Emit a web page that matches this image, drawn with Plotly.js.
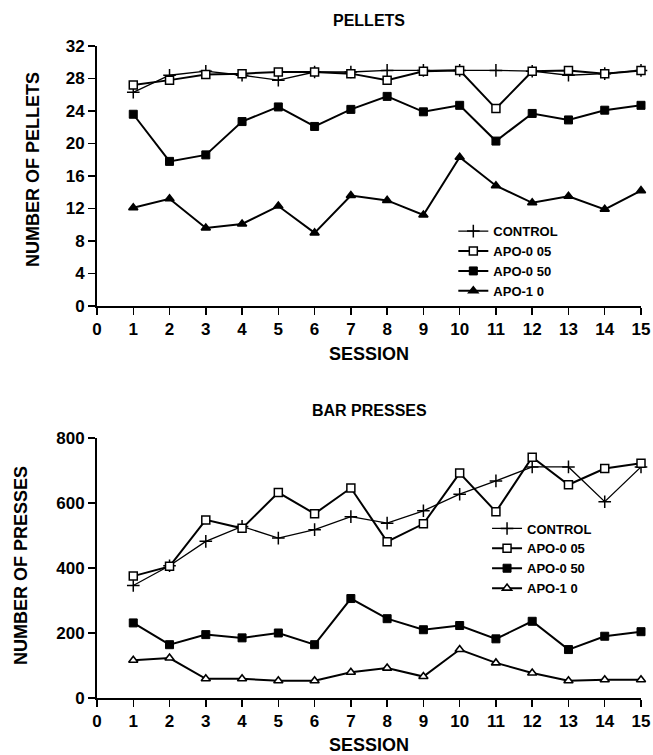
<!DOCTYPE html>
<html><head><meta charset="utf-8">
<script src="https://cdn.plot.ly/plotly-3.0.1.min.js"></script>
<style>html,body{margin:0;padding:0;background:#fff}</style>
</head><body><div id="chart" style="width:653px;height:755px"></div>
<script>
const sessions = [1,2,3,4,5,6,7,8,9,10,11,12,13,14,15];
const seriesNames = ["CONTROL","APO-0 05","APO-0 50","APO-1 0"];

const pelletsControl = [26.3,28.4,28.9,28.4,27.8,28.8,28.8,29.0,29.0,29.0,29.0,28.9,28.4,28.6,29.0];
const pelletsApo005 = [27.2,27.8,28.5,28.6,28.8,28.8,28.6,27.8,28.9,29.0,24.3,28.9,29.0,28.6,29.0];
const pelletsApo050 = [23.6,17.8,18.6,22.7,24.5,22.1,24.2,25.8,23.9,24.7,20.3,23.7,22.9,24.1,24.7];
const pelletsApo10 = [12.1,13.2,9.6,10.1,12.3,9.0,13.6,13.0,11.2,18.3,14.8,12.7,13.5,11.9,14.2];

const pressControl = [346,407,482,528,492,518,558,538,576,627,668,711,711,604,711];
const pressApo005 = [375,405,548,522,632,567,646,481,536,692,573,741,656,706,722];
const pressApo050 = [231,164,195,185,200,164,306,244,210,223,182,236,149,190,204];
const pressApo10 = [116,123,59,59,53,53,79,92,66,149,108,77,53,56,56];

const xTicks = [0,1,2,3,4,5,6,7,8,9,10,11,12,13,14,15];
const pelletTicks = [0,4,8,12,16,20,24,28,32];
const pressTicks = [0,200,400,600,800];

const styles = [
  {symbol:'cross-thin-open', size:9, lw:1.3, fill:'#000', mlw:1.5},
  {symbol:'square', size:8, lw:2, fill:'#fff', mlw:1.5},
  {symbol:'square', size:8, lw:2, fill:'#000', mlw:1},
  {symbol:'triangle-up', size:8, lw:2, fill:'#fff', mlw:1.6}
];

function mk(name, y, i, xa, ya, legend, triFill){
  const s = styles[i];
  const fill = (i === 3 && triFill) ? triFill : s.fill;
  return {
    x: sessions, y: y, name: name, type:'scatter', mode:'lines+markers',
    xaxis: xa, yaxis: ya, legend: legend, showlegend: true, cliponaxis:false,
    line:{color:'#000', width:s.lw},
    marker:{symbol:s.symbol, size:s.size, color:fill, line:{color:'#000', width:s.mlw}}
  };
}

const topData = [pelletsControl, pelletsApo005, pelletsApo050, pelletsApo10];
const botData = [pressControl, pressApo005, pressApo050, pressApo10];
const traces = [];
topData.forEach((d,i)=>traces.push(mk(seriesNames[i], d, i, 'x', 'y', 'legend', '#000')));
botData.forEach((d,i)=>traces.push(mk(seriesNames[i], d, i, 'x2', 'y2', 'legend2', null)));

const fontFam = 'Liberation Sans, Arial, sans-serif';
const tickFont = {family: fontFam, size: 17, color:'#000', weight:'bold'};

function xax(anchor){
  return {anchor: anchor, domain:[0,1], range:[0,15], tickvals: xTicks, ticktext: xTicks.map(String),
    showgrid:false, zeroline:false, showline:true, linecolor:'#000', linewidth:2,
    ticks:'outside', ticklen:7, tickwidth:1.5, tickcolor:'#000', tickfont: tickFont, fixedrange:true};
}
function yax(anchor, domain, range, ticks){
  return {anchor: anchor, domain: domain, range: range, tickvals: ticks, ticktext: ticks.map(String),
    showgrid:false, zeroline:false, showline:true, linecolor:'#000', linewidth:2,
    ticks:'outside', ticklen:7, tickwidth:1.5, tickcolor:'#000', tickfont: tickFont, fixedrange:true};
}

const legendBase = {bgcolor:'rgba(0,0,0,0)', borderwidth:0, xanchor:'left', yanchor:'top',
  font:{family:fontFam, size:13, color:'#000', weight:'bold'}, tracegroupgap:0, itemwidth:30};

const titleFont = {family:fontFam, size:16, color:'#000', weight:'bold'};
const axTitleFont = {family:fontFam, size:18, color:'#000', weight:'bold'};

const layout = {
  width:653, height:755, paper_bgcolor:'#fff', plot_bgcolor:'#fff',
  margin:{l:97, r:12, t:46, b:57},
  xaxis: xax('y'),
  yaxis: yax('x', [0.6012,1], [0,32], pelletTicks),
  xaxis2: xax('y2'),
  yaxis2: yax('x2', [0,0.3988], [0,800], pressTicks),
  legend: Object.assign({}, legendBase, {x:0.655, y:0.739}),
  legend2: Object.assign({}, legendBase, {x:0.717, y:0.283}),
  annotations: [
    {text:'PELLETS', xref:'paper', yref:'paper', x:0.5, y:1, yshift:26, yanchor:'middle', xanchor:'center', showarrow:false, font:titleFont},
    {text:'SESSION', xref:'paper', yref:'paper', x:0.5, y:0.6012, yshift:-48, yanchor:'middle', xanchor:'center', showarrow:false, font:axTitleFont},
    {text:'NUMBER OF PELLETS', xref:'paper', yref:'paper', x:0, xshift:-64, y:0.8098, yanchor:'middle', xanchor:'center', textangle:-90, showarrow:false, font:axTitleFont},
    {text:'BAR PRESSES', xref:'paper', yref:'paper', x:0.5, y:0.3988, yshift:27, yanchor:'middle', xanchor:'center', showarrow:false, font:titleFont},
    {text:'SESSION', xref:'paper', yref:'paper', x:0.5, y:0, yshift:-47, yanchor:'middle', xanchor:'center', showarrow:false, font:axTitleFont},
    {text:'NUMBER OF PRESSES', xref:'paper', yref:'paper', x:0, xshift:-76, y:0.2025, yanchor:'middle', xanchor:'center', textangle:-90, showarrow:false, font:axTitleFont}
  ]
};

Plotly.newPlot('chart', traces, layout, {staticPlot:true, displayModeBar:false});
</script></body></html>
